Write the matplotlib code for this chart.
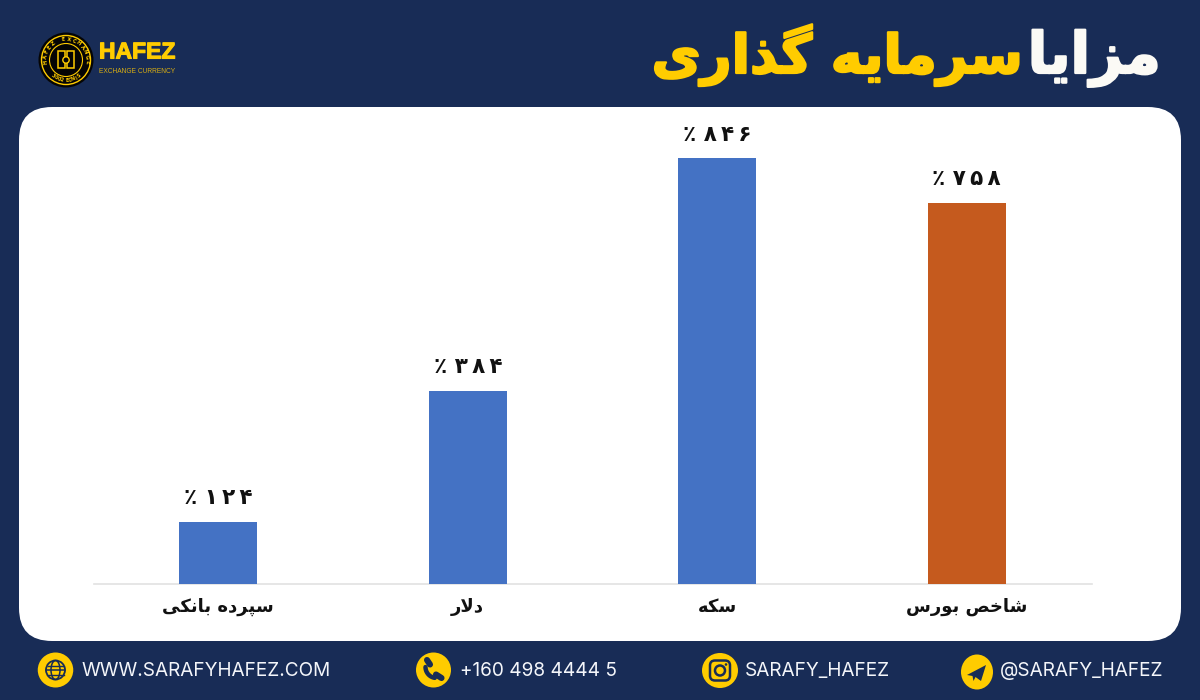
import numpy as np
import matplotlib
matplotlib.use("Agg")
import matplotlib.pyplot as plt
import matplotlib.patheffects as pe
from matplotlib.patches import Circle, FancyBboxPatch, Polygon, Rectangle, Ellipse

categories = ["سپرده بانکی", "دلار", "سکه", "شاخص بورس"]
values = [124, 384, 846, 758]
bar_colors = ["#4472C4", "#4472C4", "#4472C4", "#C55A1E"]

title_white = "مزایا"
title_yellow = "سرمایه گذاری"
footer_labels = ["WWW.SARAFYHAFEZ.COM", "+160 498 4444 5", "SARAFY_HAFEZ", "@SARAFY_HAFEZ"]

NAVY = "#182C56"
YELLOW = "#FFCC00"

# matplotlib does no arabic shaping, so pick the presentation forms by hand
# isolated, final, initial, medial
FORMS = {
    "ا": (0xFE8D, 0xFE8E), "د": (0xFEA9, 0xFEAA), "ذ": (0xFEAB, 0xFEAC),
    "ر": (0xFEAD, 0xFEAE), "ز": (0xFEAF, 0xFEB0), "و": (0xFEED, 0xFEEE),
    "ب": (0xFE8F, 0xFE90, 0xFE91, 0xFE92), "پ": (0xFB56, 0xFB57, 0xFB58, 0xFB59),
    "خ": (0xFEA5, 0xFEA6, 0xFEA7, 0xFEA8), "س": (0xFEB1, 0xFEB2, 0xFEB3, 0xFEB4),
    "ش": (0xFEB5, 0xFEB6, 0xFEB7, 0xFEB8), "ص": (0xFEB9, 0xFEBA, 0xFEBB, 0xFEBC),
    "ل": (0xFEDD, 0xFEDE, 0xFEDF, 0xFEE0), "م": (0xFEE1, 0xFEE2, 0xFEE3, 0xFEE4),
    "ن": (0xFEE5, 0xFEE6, 0xFEE7, 0xFEE8), "ه": (0xFEE9, 0xFEEA, 0xFEEB, 0xFEEC),
    "ک": (0xFB8E, 0xFB8F, 0xFB90, 0xFB91), "گ": (0xFB92, 0xFB93, 0xFB94, 0xFB95),
    "ی": (0xFBFC, 0xFBFD, 0xFBFE, 0xFBFF),
}


def shape(texto):
    salida = []
    i = 0
    prev_joins = False
    while i < len(texto):
        c = texto[i]
        if c not in FORMS:
            salida.append(c)
            prev_joins = False
            i += 1
            continue
        sig = texto[i + 1] if i + 1 < len(texto) else ""
        if c == "ل" and sig == "ا":
            salida.append(chr(0xFEFC if prev_joins else 0xFEFB))
            prev_joins = False
            i += 2
            continue
        f = FORMS[c]
        next_ok = len(f) == 4 and sig in FORMS
        if prev_joins and next_ok:
            salida.append(chr(f[3]))
        elif prev_joins:
            salida.append(chr(f[1]))
        elif next_ok:
            salida.append(chr(f[2]))
        else:
            salida.append(chr(f[0]))
        prev_joins = next_ok
        i += 1
    return "".join(reversed(salida))


def persian_pct(valor):
    digitos = str(valor).translate(str.maketrans("0123456789", "۰۱۲۳۴۵۶۷۸۹"))
    return "٪ " + "\u2009".join(digitos)


fig = plt.figure(figsize=(12, 7), dpi=100, facecolor=NAVY)

# full figure layer in pixel units for the frame, logo and footer
bg = fig.add_axes([0, 0, 1, 1])
bg.set_xlim(0, 1200)
bg.set_ylim(700, 0)
bg.axis("off")

bg.add_patch(FancyBboxPatch((19, 107), 1162, 534, boxstyle="round,pad=0,rounding_size=33",
                            fc="white", ec="none"))

# title
bg.text(1161, 73, shape(title_white), color="#FBFAF5", fontsize=41, fontweight="bold",
        ha="right", va="baseline", family="DejaVu Sans",
        path_effects=[pe.withStroke(linewidth=1.6, foreground="#FBFAF5")])
bg.text(1023, 73, shape(title_yellow), color=YELLOW, fontsize=38.6, fontweight="bold",
        ha="right", va="baseline", family="DejaVu Sans",
        path_effects=[pe.withStroke(linewidth=1.6, foreground=YELLOW)])

# logo
bg.add_patch(Circle((66, 60), 27.5, fc="#050505", ec="none"))
bg.add_patch(Circle((66, 60), 24.5, fc="none", ec=YELLOW, lw=1.0))
bg.add_patch(Circle((66, 60), 16.5, fc="none", ec=YELLOW, lw=0.8))
bg.add_patch(Rectangle((58, 51), 7, 17, fc="none", ec=YELLOW, lw=1.1))
bg.add_patch(Rectangle((67, 51), 7, 17, fc="none", ec=YELLOW, lw=1.1))
bg.add_patch(Circle((66, 60), 3.2, fc="#050505", ec=YELLOW, lw=1.0))
ring_top = "HAFEZ EXCHANGE"
for ang, ch in zip(np.linspace(-96, 96, len(ring_top)), ring_top):
    r = np.radians(ang)
    bg.text(66 + 20.5 * np.sin(r), 60 - 20.5 * np.cos(r), ch, color=YELLOW, fontsize=3.8,
            fontweight="bold", ha="center", va="center", rotation=-ang, family="DejaVu Sans")
ring_bottom = "SINCE 2003"
for ang, ch in zip(np.linspace(38, -38, len(ring_bottom)), ring_bottom):
    r = np.radians(ang)
    bg.text(66 + 20.5 * np.sin(r), 60 + 20.5 * np.cos(r), ch, color=YELLOW, fontsize=3.5,
            fontweight="bold", ha="center", va="center", rotation=ang, family="DejaVu Sans")
bg.text(99, 52, "HAFEZ", color=YELLOW, fontsize=16.5, fontweight="bold", ha="left", va="center",
        family="Liberation Sans", path_effects=[pe.withStroke(linewidth=0.8, foreground=YELLOW)])
bg.text(99, 71.5, "EXCHANGE CURRENCY", color="#D9AE12", fontsize=4.8, ha="left", va="center",
        family="Liberation Sans")

# footer icons
icon_x = [55.5, 433.5, 720, 977]
icon_y = [670, 670, 670.5, 672]
icon_w = [35.5, 35, 36, 32]
for x, y, w in zip(icon_x, icon_y, icon_w):
    bg.add_patch(Ellipse((x, y), w, 35, fc=YELLOW, ec="none"))

# globe
gx, gy = icon_x[0], icon_y[0]
bg.add_patch(Circle((gx, gy), 9.5, fc="none", ec=NAVY, lw=1.3))
bg.add_patch(Ellipse((gx, gy), 9, 19, fc="none", ec=NAVY, lw=1.1))
bg.plot([gx - 9.5, gx + 9.5], [gy, gy], color=NAVY, lw=1.1)
bg.plot([gx - 8, gx + 8], [gy - 4.5, gy - 4.5], color=NAVY, lw=1.0)
bg.plot([gx - 8, gx + 8], [gy + 4.5, gy + 4.5], color=NAVY, lw=1.0)

# phone handset, a thick bent stroke with heavier ends
px, py = icon_x[1], icon_y[1]
t = np.linspace(np.pi * 0.55, np.pi * 1.0, 20)
bg.plot(px + 3 + 11 * np.cos(t), py - 3 - 11 * np.sin(t) * -1, color=NAVY, lw=3.2, solid_capstyle="round")
bg.plot([px - 6.5, px - 3.5], [py - 10, py - 5.5], color=NAVY, lw=4.4, solid_capstyle="round")
bg.plot([px + 2.5, px + 8], [py + 4.5, py + 8], color=NAVY, lw=4.4, solid_capstyle="round")

# instagram
ix, iy = icon_x[2], icon_y[2]
bg.add_patch(FancyBboxPatch((ix - 10, iy - 10), 20, 20, boxstyle="round,pad=0,rounding_size=5",
                            fc="none", ec=NAVY, lw=1.8))
bg.add_patch(Circle((ix, iy), 5, fc="none", ec=NAVY, lw=1.8))
bg.add_patch(Circle((ix + 6, iy - 6), 1.3, fc=NAVY, ec="none"))

# telegram
tx, ty = icon_x[3], icon_y[3]
bg.add_patch(Polygon([(tx - 10, ty + 3), (tx + 9, ty - 7), (tx + 4, ty + 9), (tx - 1.5, ty + 5),
                      (tx - 3.5, ty + 9), (tx - 4.5, ty + 4)],
                     closed=True, fc=NAVY, ec="none"))

# footer text
footer_x = [82, 459.5, 745, 1000]
for x, lab in zip(footer_x, footer_labels):
    bg.text(x, 671, lab, color="#F4F6FA", fontsize=13.7, ha="left", va="center", family="Inter")

# chart
ax = fig.add_axes([93.5 / 1200, (700 - 584) / 700, 998 / 1200, 477 / 700])
ax.patch.set_alpha(0)
xpos = np.arange(len(categories))
bars = ax.bar(xpos, values, width=0.313, color=bar_colors, zorder=3)
ax.set_xlim(-0.5, 3.5)
ax.set_ylim(0, 948)
for spine in ["top", "left", "right"]:
    ax.spines[spine].set_visible(False)
ax.spines["bottom"].set_color("#E2E2E2")
ax.spines["bottom"].set_linewidth(1.2)
ax.set_yticks([])
ax.set_xticks(xpos)
ax.set_xticklabels([shape(c) for c in categories], fontsize=13, fontweight="bold", color="#111111",
                   family="DejaVu Sans")
ax.tick_params(axis="x", length=0, pad=10)

for b, v in zip(bars, values):
    ax.annotate(persian_pct(v), (b.get_x() + b.get_width() / 2, v), xytext=(0, 17), textcoords="offset points",
                ha="center", va="center", fontsize=15.5, fontweight="bold", color="#111111", family="DejaVu Sans")

fig.savefig("out.png", dpi=100, facecolor=NAVY)
